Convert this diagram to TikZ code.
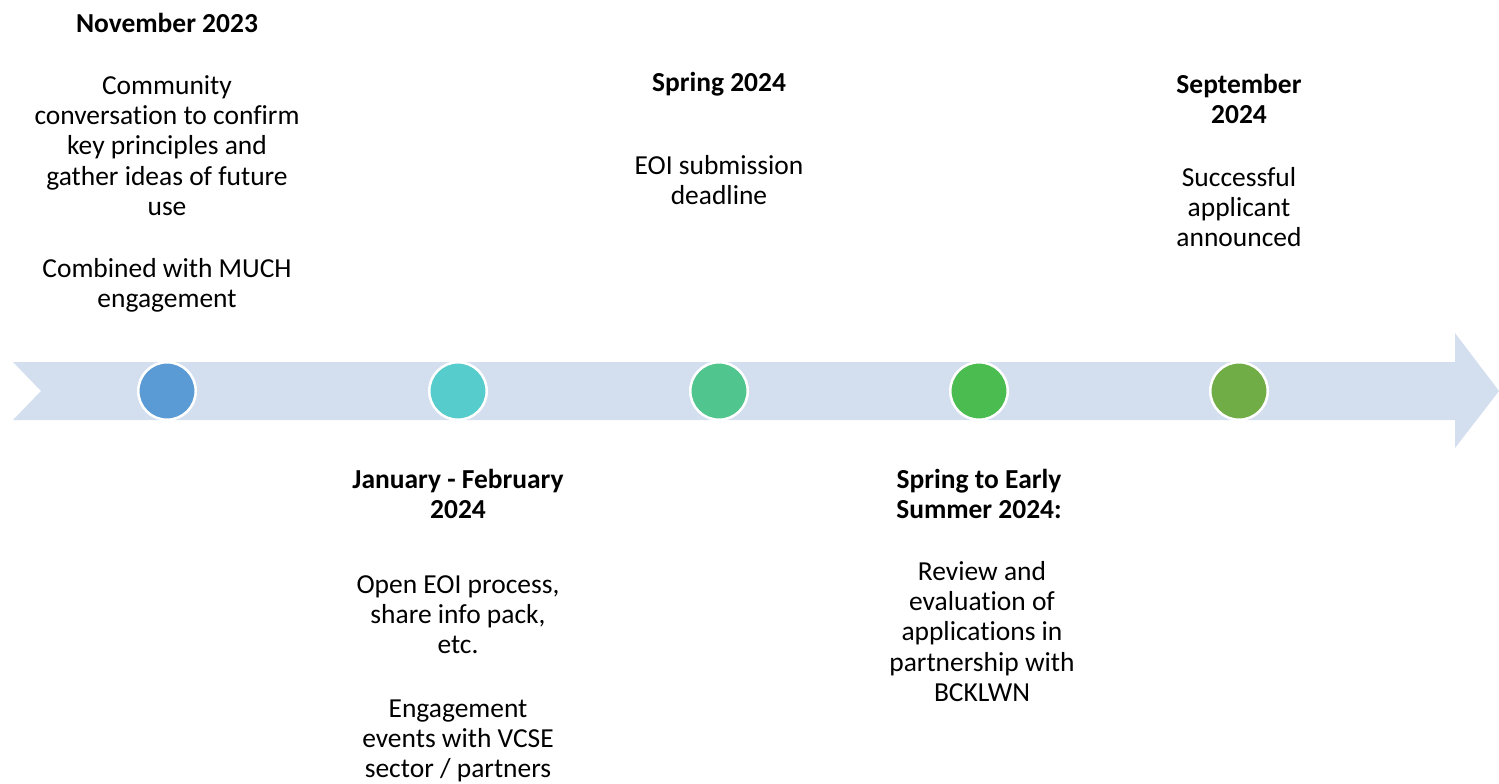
\documentclass[tikz,border=0pt]{standalone}
\usepackage{fontspec}
\setmainfont{Carlito}[Ligatures=NoCommon]
\definecolor{arrowfill}{HTML}{D3DEEF}
\definecolor{dotA}{HTML}{5B9BD5}
\definecolor{dotB}{HTML}{56CCCC}
\definecolor{dotC}{HTML}{50C58E}
\definecolor{dotD}{HTML}{4ABC50}
\definecolor{dotE}{HTML}{70AD47}
\begin{document}
\begin{tikzpicture}[x=0.75pt,y=-0.75pt,
  dot/.style={circle,draw=white,line width=1.9pt,minimum size=57.5*0.75pt,inner sep=0pt},
  lbl/.style={anchor=north,inner sep=0pt,align=center,text=black,
    font=\fontsize{20.6pt}{22.7pt}\selectfont},
  ttl/.style={lbl,font=\fontsize{20.6pt}{22.7pt}\selectfont\bfseries}]
\useasboundingbox (0,0) rectangle (1499,783);
% timeline arrow
\fill[arrowfill] (13,362) -- (1455,362) -- (1455,333) -- (1499,391) -- (1455,448)
  -- (1455,420) -- (13,420) -- (41,391) -- cycle;
% milestones
\node[dot,fill=dotA] (m1) at (167,391) {};
\node[dot,fill=dotB] (m2) at (458,391) {};
\node[dot,fill=dotC] (m3) at (719,391) {};
\node[dot,fill=dotD] (m4) at (979,391) {};
\node[dot,fill=dotE] (m5) at (1239,391) {};
% column 1
\node[ttl] (t1) at (167,10.8) {\strut November 2023};
\node[lbl] (b1a) at (167,72.8) {\strut Community\\conversation to confirm\\key principles and\\gather ideas of future\\use};
\node[lbl] (b1b) at (167,255.8) {\strut Combined with MUCH\\engagement};
% column 2
\node[ttl] (t2) at (458,466.8) {\strut January - February\\2024};
\node[lbl] (b2a) at (458,571.8) {\strut Open EOI process,\\share info pack,\\etc.};
\node[lbl] (b2b) at (458,695.8) {\strut Engagement\\events with VCSE\\sector / partners};
% column 3
\node[ttl] (t3) at (719,69.8) {\strut Spring 2024};
\node[lbl] (b3) at (719,152.8) {\strut EOI submission\\deadline};
% column 4
\node[ttl] (t4) at (979,466.8) {\strut Spring to Early\\Summer 2024:};
\node[lbl] (b4) at (982,558.8) {\strut Review and\\evaluation of\\applications in\\partnership with\\BCKLWN};
% column 5
\node[ttl] (t5) at (1239,71.8) {\strut September\\2024};
\node[lbl] (b5) at (1239,164.8) {\strut Successful\\applicant\\announced};
\end{tikzpicture}
\end{document}
